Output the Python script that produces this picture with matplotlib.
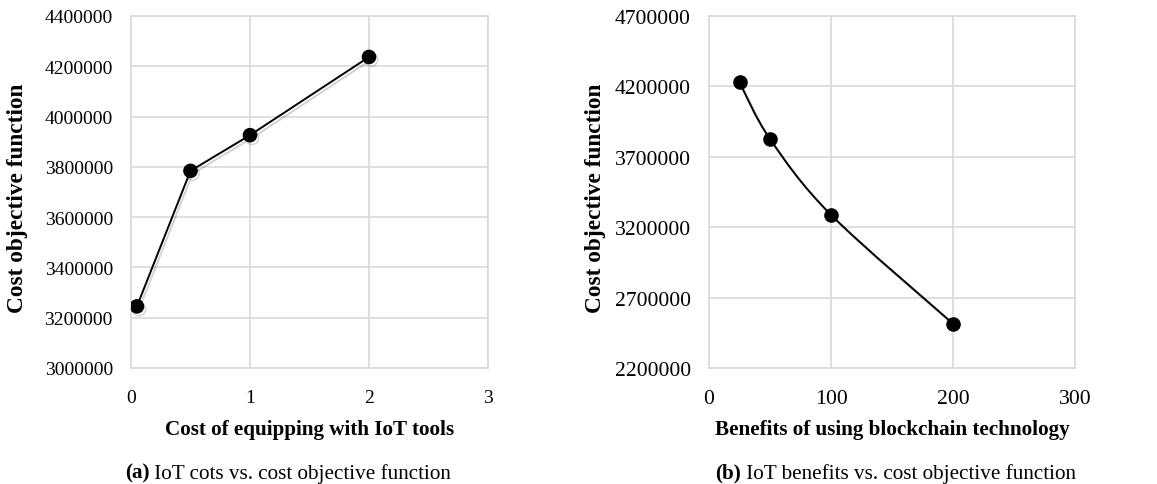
import numpy as np
import matplotlib
matplotlib.use('Agg')
import matplotlib.pyplot as plt
from matplotlib.path import Path
from matplotlib.patches import PathPatch
import matplotlib.patheffects as pe

# data
iot_cost = [0.05, 0.5, 1, 2]
cost_obj_a = [3245000, 3784000, 3926000, 4237000]

bc_benefit = [25, 50, 100, 200]
cost_obj_b = [4228000, 3826000, 3288000, 2515000]

xticks_a = [0, 1, 2, 3]
yticks_a = [3000000, 3200000, 3400000, 3600000, 3800000, 4000000, 4200000, 4400000]
xticks_b = [0, 100, 200, 300]
yticks_b = [2200000, 2700000, 3200000, 3700000, 4200000, 4700000]

plt.rcParams['font.family'] = 'Liberation Serif'

grid_col = '#d9d9d9'


def shadow():
    return [pe.SimpleLineShadow(offset=(1.5, -2), alpha=0.18, shadow_color='black'), pe.Normal()]


def smooth_path(x, y):
    # excel style smoothed line (catmull-rom through the points)
    x = np.asarray(x, float)
    y = np.asarray(y, float)
    n = len(x)
    verts = [(x[0], y[0])]
    codes = [Path.MOVETO]
    for i in range(n - 1):
        i0 = max(i - 1, 0)
        i3 = min(i + 2, n - 1)
        c1 = (x[i] + (x[i + 1] - x[i0]) / 6, y[i] + (y[i + 1] - y[i0]) / 6)
        c2 = (x[i + 1] - (x[i3] - x[i]) / 6, y[i + 1] - (y[i3] - y[i]) / 6)
        verts += [c1, c2, (x[i + 1], y[i + 1])]
        codes += [Path.CURVE4] * 3
    return Path(verts, codes)


def style_axes(ax, xticks, yticks, fs):
    ax.set_xlim(xticks[0], xticks[-1])
    ax.set_ylim(yticks[0], yticks[-1])
    ax.set_xticks(xticks)
    ax.set_yticks(yticks)
    ax.set_xticklabels([str(v) for v in xticks])
    ax.set_yticklabels([str(v) for v in yticks])
    ax.grid(True, color=grid_col, linewidth=1.2)
    ax.set_axisbelow(True)
    for s in ax.spines.values():
        s.set_color(grid_col)
        s.set_linewidth(1.2)
    ax.tick_params(length=0, labelsize=fs, colors='black')
    ax.tick_params(axis='x', pad=15)
    ax.tick_params(axis='y', pad=13)


fig = plt.figure(figsize=(11.57, 4.85), dpi=100)
ax1 = fig.add_axes([0.1132, 0.2392, 0.3086, 0.7258])
ax2 = fig.add_axes([0.6128, 0.2392, 0.3163, 0.7258])

# (a)
style_axes(ax1, xticks_a, yticks_a, 14)
ax1.plot(iot_cost, cost_obj_a, color='black', linewidth=1.4, marker='o',
         markersize=9.5, path_effects=shadow(), zorder=3)
ax1.set_xlabel('Cost of equipping with IoT tools', fontsize=15.2, fontweight='bold')
ax1.set_ylabel('Cost objective function', fontsize=16.8, fontweight='bold')
ax1.xaxis.set_label_coords(0.5, -0.172)
ax1.xaxis.label.set_va('center')
ax1.yaxis.set_label_coords(-0.3165, 0.485)
ax1.yaxis.label.set_va('center')

# (b)
style_axes(ax2, xticks_b, yticks_b, 15.6)
patch = PathPatch(smooth_path(bc_benefit, cost_obj_b), facecolor='none', edgecolor='black',
                  linewidth=1.4, transform=ax2.transData, zorder=3)
patch.set_path_effects(shadow())
ax2.add_patch(patch)
ax2.plot(bc_benefit, cost_obj_b, linestyle='none', color='black', marker='o',
         markersize=9.5, zorder=4)
ax2.set_xlabel('Benefits of using blockchain technology', fontsize=15.2, fontweight='bold')
ax2.set_ylabel('Cost objective function', fontsize=16.8, fontweight='bold')
ax2.xaxis.set_label_coords(0.5, -0.172)
ax2.xaxis.label.set_va('center')
ax2.yaxis.set_label_coords(-0.3115, 0.485)
ax2.yaxis.label.set_va('center')

# captions
for x0, tag, rest in [(0.108, '(a)', ' IoT cots vs. cost objective function'),
                      (0.618, '(b)', ' IoT benefits vs. cost objective function')]:
    t = fig.text(x0, 0.003, tag, fontsize=15.2, fontweight='bold', ha='left', va='bottom')
    ax1.annotate(rest, xy=(1, 0), xycoords=t, fontsize=15.2, ha='left', va='bottom',
                 annotation_clip=False)

fig.savefig('out.png', dpi=100)
